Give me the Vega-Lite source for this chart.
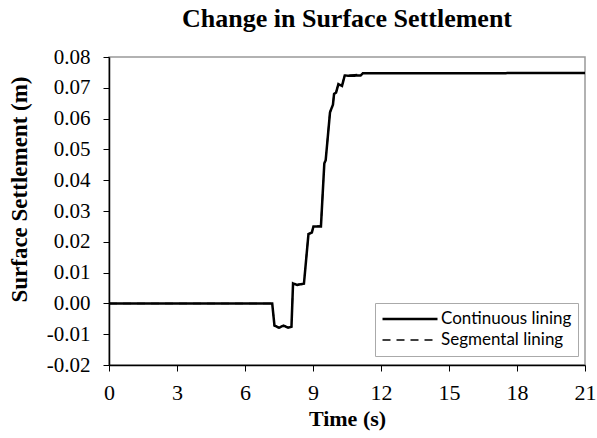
{
  "$schema": "https://vega.github.io/schema/vega-lite/v6.json",
  "width": 476,
  "height": 308,
  "autosize": {"type": "none"},
  "padding": {"left": 109, "top": 57, "right": 12, "bottom": 73},
  "background": "white",
  "config": {
    "view": {"stroke": "#999999", "strokeWidth": 1.5},
    "font": "Liberation Serif",
    "axis": {"labelFont": "Liberation Serif", "titleFont": "Liberation Serif"}
  },
  "title": {
    "text": "Change in Surface Settlement",
    "font": "Liberation Serif",
    "fontSize": 26,
    "fontWeight": "bold",
    "color": "black",
    "anchor": "middle",
    "offset": 14
  },
  "data": {
    "values": [
      {"t": 0, "v": 0, "s": "Continuous lining"},
      {"t": 7.2, "v": 0, "s": "Continuous lining"},
      {"t": 7.3, "v": -0.0072, "s": "Continuous lining"},
      {"t": 7.5, "v": -0.0079, "s": "Continuous lining"},
      {"t": 7.7, "v": -0.0072, "s": "Continuous lining"},
      {"t": 7.9, "v": -0.0079, "s": "Continuous lining"},
      {"t": 8.05, "v": -0.0076, "s": "Continuous lining"},
      {"t": 8.12, "v": 0.0065, "s": "Continuous lining"},
      {"t": 8.3, "v": 0.006, "s": "Continuous lining"},
      {"t": 8.6, "v": 0.0064, "s": "Continuous lining"},
      {"t": 8.8, "v": 0.0225, "s": "Continuous lining"},
      {"t": 8.95, "v": 0.023, "s": "Continuous lining"},
      {"t": 9.02, "v": 0.025, "s": "Continuous lining"},
      {"t": 9.35, "v": 0.025, "s": "Continuous lining"},
      {"t": 9.5, "v": 0.0455, "s": "Continuous lining"},
      {"t": 9.56, "v": 0.0465, "s": "Continuous lining"},
      {"t": 9.75, "v": 0.062, "s": "Continuous lining"},
      {"t": 9.8, "v": 0.063, "s": "Continuous lining"},
      {"t": 9.88, "v": 0.0645, "s": "Continuous lining"},
      {"t": 9.93, "v": 0.068, "s": "Continuous lining"},
      {"t": 10.02, "v": 0.0685, "s": "Continuous lining"},
      {"t": 10.12, "v": 0.0712, "s": "Continuous lining"},
      {"t": 10.28, "v": 0.0706, "s": "Continuous lining"},
      {"t": 10.4, "v": 0.074, "s": "Continuous lining"},
      {"t": 10.6, "v": 0.0739, "s": "Continuous lining"},
      {"t": 11.1, "v": 0.074, "s": "Continuous lining"},
      {"t": 11.2, "v": 0.0747, "s": "Continuous lining"},
      {"t": 21, "v": 0.0748, "s": "Continuous lining"},
      {"t": 0, "v": 0, "s": "Segmental lining"},
      {"t": 7.2, "v": 0, "s": "Segmental lining"},
      {"t": 7.3, "v": -0.0072, "s": "Segmental lining"},
      {"t": 7.5, "v": -0.0078, "s": "Segmental lining"},
      {"t": 7.7, "v": -0.0072, "s": "Segmental lining"},
      {"t": 7.9, "v": -0.0078, "s": "Segmental lining"},
      {"t": 8.05, "v": -0.0075, "s": "Segmental lining"},
      {"t": 8.12, "v": 0.0066, "s": "Segmental lining"},
      {"t": 8.3, "v": 0.0061, "s": "Segmental lining"},
      {"t": 8.6, "v": 0.0065, "s": "Segmental lining"},
      {"t": 8.8, "v": 0.0226, "s": "Segmental lining"},
      {"t": 8.95, "v": 0.0231, "s": "Segmental lining"},
      {"t": 9.02, "v": 0.0251, "s": "Segmental lining"},
      {"t": 9.35, "v": 0.0251, "s": "Segmental lining"},
      {"t": 9.5, "v": 0.0456, "s": "Segmental lining"},
      {"t": 9.56, "v": 0.0466, "s": "Segmental lining"},
      {"t": 9.75, "v": 0.0621, "s": "Segmental lining"},
      {"t": 9.8, "v": 0.0631, "s": "Segmental lining"},
      {"t": 9.88, "v": 0.0646, "s": "Segmental lining"},
      {"t": 9.93, "v": 0.0681, "s": "Segmental lining"},
      {"t": 10.02, "v": 0.0686, "s": "Segmental lining"},
      {"t": 10.12, "v": 0.0713, "s": "Segmental lining"},
      {"t": 10.28, "v": 0.0707, "s": "Segmental lining"},
      {"t": 10.4, "v": 0.0741, "s": "Segmental lining"},
      {"t": 10.6, "v": 0.0741, "s": "Segmental lining"},
      {"t": 11.1, "v": 0.0744, "s": "Segmental lining"},
      {"t": 11.2, "v": 0.0749, "s": "Segmental lining"},
      {"t": 21, "v": 0.0749, "s": "Segmental lining"}
    ]
  },
  "mark": {"type": "line", "color": "black", "interpolate": "linear"},
  "encoding": {
    "x": {
      "field": "t",
      "type": "quantitative",
      "scale": {"domain": [0, 21], "nice": false, "zero": false},
      "axis": {
        "title": "Time (s)",
        "values": [0, 3, 6, 9, 12, 15, 18, 21],
        "grid": false,
        "domainColor": "black",
        "domainWidth": 1.5,
        "tickColor": "black",
        "tickSize": 6,
        "labelFont": "Liberation Serif",
        "labelFontSize": 22,
        "labelColor": "black",
        "labelPadding": 11,
        "labelFlush": false,
        "titleFont": "Liberation Serif",
        "titleFontSize": 22,
        "titleFontWeight": "bold",
        "titleColor": "black",
        "titlePadding": 5
      }
    },
    "y": {
      "field": "v",
      "type": "quantitative",
      "scale": {"domain": [-0.02, 0.08], "nice": false, "zero": false},
      "axis": {
        "title": "Surface Settlement (m)",
        "values": [-0.02, -0.01, 0, 0.01, 0.02, 0.03, 0.04, 0.05, 0.06, 0.07, 0.08],
        "format": ".2f",
        "labelExpr": "replace(datum.label, '\u2212', '-')",
        "grid": false,
        "domainColor": "black",
        "domainWidth": 1.5,
        "tickColor": "black",
        "tickSize": 6,
        "labelFont": "Liberation Serif",
        "labelFontSize": 21,
        "labelColor": "black",
        "labelPadding": 13,
        "labelFlush": false,
        "titleFont": "Liberation Serif",
        "titleFontSize": 23,
        "titleFontWeight": "bold",
        "titleColor": "black",
        "titleX": -78,
        "titleY": 132,
        "titleAnchor": null
      }
    },
    "strokeDash": {
      "field": "s",
      "type": "nominal",
      "scale": {"domain": ["Continuous lining", "Segmental lining"], "range": [[1, 0], [8, 6]]},
      "legend": {
        "title": null,
        "orient": "none",
        "legendX": 266,
        "legendY": 246,
        "symbolType": "stroke",
        "symbolSize": 3025,
        "symbolStrokeColor": "black",
        "symbolStrokeWidth": 1.8,
        "clipHeight": 20,
        "labelFont": "Lato",
        "labelFontSize": 17,
        "labelColor": "black",
        "labelOffset": 2,
        "rowPadding": 1,
        "strokeColor": "#aaaaaa",
        "fillColor": "white",
        "padding": 6
      }
    },
    "strokeWidth": {
      "field": "s",
      "type": "nominal",
      "scale": {"domain": ["Continuous lining", "Segmental lining"], "range": [2.5, 1.5]},
      "legend": null
    }
  }
}
